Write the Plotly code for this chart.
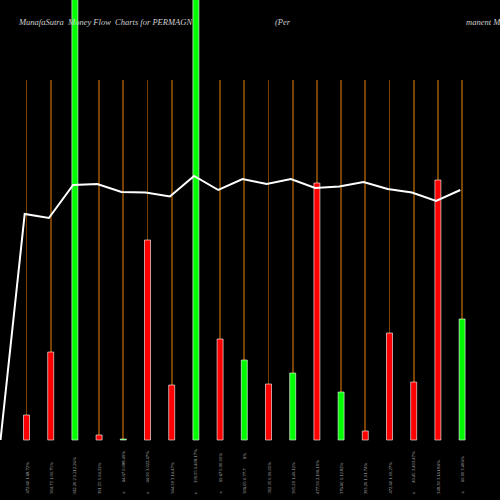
import plotly.graph_objects as go

categories = ["1", "2", "3", "4", "5", "6", "7", "8", "9", "10", "11", "12", "13", "14", "15", "16", "17", "18", "19"]
flow_values = [25, 88, 470, 5, 1, 200, 55, 470, 101, 80, 56, 67, 257, 48, 9, 107, 58, 260, 121]
bar_colors = ["red", "red", "lime", "red", "lime", "red", "red", "lime", "red", "lime", "red", "lime", "red", "lime", "red", "red", "red", "red", "lime"]
line_values = [0, 226, 222, 255, 256, 248, 247.5, 243.5, 264, 250, 261, 256, 261, 252, 253.5, 258, 251, 247.5, 239, 250]
stem_values = [360] * 19
nb = "\u00a0"
gap = nb * 8
tick_labels = ["472.60 1.68.72%", "304.75 1.91.75%", "342.20 2 1.212.26%", "391.55 1.94.32%",
               "x" + gap + "64.67 0.988.49%", "x" + gap + "44.90 3.022.47%",
               "344.30 3.14.47%", "x" + gap + "399.55 1.408.17%", "x" + gap + "69.67 0.90.91%",
               "306.05 0.77.7" + gap + "6%", "392.35 0.99.05%", "395.20 1.49.12%",
               "477.50 2.196.19%", "376.60 1.12.82%", "393.20 1.91.74%", "472.60 1.19.27%",
               "x" + gap + "49.45 3.403.47%", "348.30 3.141.84%", "x" + gap + "69.00 3.406%"]
title_left = "MunafaSutra  Money Flow  Charts for PERMAGN"
title_mid = "(Per"
title_right = "manent M"

px = [26.5 + 24.2 * i for i in range(19)]
fig = go.Figure()
fig.add_trace(go.Bar(x=px, y=stem_values, width=1, marker=dict(color="#7a4200", line_width=0)))
fig.add_trace(go.Bar(x=px, y=flow_values, width=6, marker=dict(color=bar_colors, line=dict(color="rgba(255,255,255,0.6)", width=1))))
fig.add_trace(go.Scatter(x=[0.5 + 24.2 * i for i in range(20)], y=line_values, mode="lines",
                         line=dict(color="white", width=2)))
for p, t in zip(px, tick_labels):
    fig.add_annotation(x=p, y=-56, text=t.replace(" ", nb), textangle=-90, showarrow=False, yanchor="bottom",
                       font=dict(family="Liberation Serif", size=4.6, color="#b8b8b8"))
for x0, txt in [(16, title_left), (273, title_mid), (464, title_right)]:
    fig.add_annotation(x=x0, y=418.5, text="<i>" + txt.replace(" ", nb) + "</i>", showarrow=False, xanchor="left",
                       font=dict(family="Liberation Serif", size=8.5, color="#d0d0d0"))
fig.update_layout(width=500, height=500, margin=dict(l=0, r=0, t=0, b=0), paper_bgcolor="black", plot_bgcolor="black",
                  showlegend=False, barmode="overlay",
                  xaxis=dict(range=[0, 500], visible=False),
                  yaxis=dict(range=[-60, 440], visible=False))
fig.write_html("out.html", config={"displayModeBar": False},
               post_script="document.body.style.margin='0';")
